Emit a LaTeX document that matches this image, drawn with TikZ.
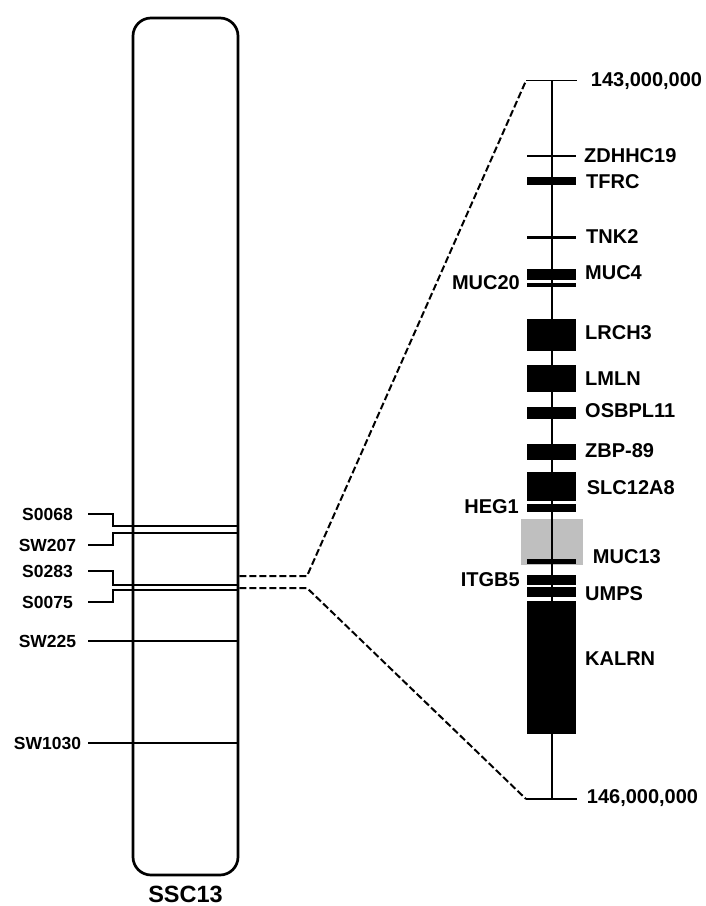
\documentclass[tikz,border=0pt]{standalone}
\usepackage{fontspec}
\setmainfont{Liberation Sans}
\usetikzlibrary{positioning, calc}

\begin{document}
\begin{tikzpicture}[x=1pt, y=-1pt,
chrom/.style={draw, line width=2.7pt, rounded corners=18pt, minimum width=105pt, minimum height=857pt, inner sep=0},
markerlabel/.style={font=\fontsize{17.5}{20}\selectfont\bfseries, text width=70pt, align=center, inner sep=0},
markerline/.style={line width=2pt},
gene/.style={fill=black, minimum width=48.5pt, inner sep=0, outer sep=0},
genelabel/.style={font=\fontsize{20}{24}\selectfont\bfseries, inner sep=0},
zoomline/.style={line width=2pt, dash pattern=on 7pt off 3pt}]
    \useasboundingbox (0,0) rectangle (705,906);

    % chromosome SSC13
    \node[chrom] (ssc) at (185.5,446.5) {};
    \node[font=\fontsize{23.5}{28}\selectfont\bfseries, below=6pt of ssc] (ssclabel) {SSC13};

    % markers
    \node[markerlabel] (s0068) at (47.5,514) {S0068};
    \node[markerlabel] (sw207) at (47.5,545) {SW207};
    \node[markerlabel] (s0283) at (47.5,571) {S0283};
    \node[markerlabel] (s0075) at (47.5,602) {S0075};
    \node[markerlabel] (sw225) at (47.5,641) {SW225};
    \node[markerlabel] (sw1030) at (47.5,743) {SW1030};

    \draw[markerline] ([xshift=5.5pt]s0068.east) -- ++(25,0) |- (ssc.east |- 0,526);
    \draw[markerline] ([xshift=5.5pt]sw207.east) -- ++(25,0) |- (ssc.east |- 0,533);
    \draw[markerline] ([xshift=5.5pt]s0283.east) -- ++(25,0) |- (ssc.east |- 0,585);
    \draw[markerline] ([xshift=5.5pt]s0075.east) -- ++(25,0) |- (ssc.east |- 0,589.5);
    \draw[markerline] ([xshift=5.5pt]sw225.east) -- (ssc.east |- sw225);
    \draw[markerline] ([xshift=5.5pt]sw1030.east) -- (ssc.east |- sw1030);

    % zoomed region
    \coordinate (axtop) at (551.5,80.7);
    \coordinate (axbot) at (551.5,799);
    \coordinate (zoomA) at (307,576);
    \coordinate (zoomB) at (307,588);

    \node[fill=black!25, minimum width=62.3pt, minimum height=46.3pt, inner sep=0] (grey) at (552.2,541.9) {};

    \node[gene, minimum height=2.5pt] (zdhhc19) at (551.5,156) {};
    \node[gene, minimum height=8pt] (tfrc) at (551.5,181.3) {};
    \node[gene, minimum height=3pt] (tnk2) at (551.5,237.3) {};
    \node[gene, minimum height=10.7pt] (muc4) at (551.5,274.6) {};
    \node[gene, minimum height=3.8pt] (muc20) at (551.5,284.6) {};
    \node[gene, minimum height=31.7pt] (lrch3) at (551.5,335.1) {};
    \node[gene, minimum height=26.4pt] (lmln) at (551.5,378.5) {};
    \node[gene, minimum height=12pt] (osbpl11) at (551.5,413.3) {};
    \node[gene, minimum height=16.3pt] (zbp89) at (551.5,452.1) {};
    \node[gene, minimum height=28.7pt] (slc12a8) at (551.5,486.6) {};
    \node[gene, minimum height=8pt] (heg1) at (551.5,508) {};
    \node[gene, minimum height=4.7pt] (muc13) at (551.5,561.6) {};
    \node[gene, minimum height=9.7pt] (itgb5) at (551.5,580.1) {};
    \node[gene, minimum height=10pt] (umps) at (551.5,592.3) {};
    \node[gene, minimum height=133.6pt] (kalrn) at (551.5,667.5) {};

    \draw[line width=2pt] (axtop) -- (axbot);
    \draw[line width=1.5pt] ([xshift=-25.5pt]axtop) -- ([xshift=25pt]axtop);
    \draw[line width=1.5pt] ([xshift=-25.5pt]axbot) -- ([xshift=25pt]axbot);

    \draw[zoomline] (ssc.east |- 0,576) -- (zoomA) -- ([xshift=-25.5pt]axtop);
    \draw[zoomline] (ssc.east |- 0,588) -- (zoomB) -- ([xshift=-25.5pt]axbot);

    % gene labels
    \node[genelabel, anchor=west] (toplabel) at (590.7,80.7) {143,000,000};
    \node[genelabel, anchor=west] (botlabel) at (586.7,798) {146,000,000};
    \node[genelabel, anchor=west] (zdhhc19-l) at (584,156) {ZDHHC19};
    \node[genelabel, anchor=west] (tfrc-l) at (586,181.7) {TFRC};
    \node[genelabel, anchor=west] (tnk2-l) at (586,237) {TNK2};
    \node[genelabel, anchor=west] (muc4-l) at (585,273) {MUC4};
    \node[genelabel, anchor=east] (muc20-l) at (520,282.7) {MUC20};
    \node[genelabel, anchor=west] (lrch3-l) at (585,333) {LRCH3};
    \node[genelabel, anchor=west] (lmln-l) at (585,379) {LMLN};
    \node[genelabel, anchor=west] (osbpl11-l) at (585,411) {OSBPL11};
    \node[genelabel, anchor=west] (zbp89-l) at (585,450.7) {ZBP-89};
    \node[genelabel, anchor=west] (slc12a8-l) at (586.7,487.7) {SLC12A8};
    \node[genelabel, anchor=east] (heg1-l) at (519,506.7) {HEG1};
    \node[genelabel, anchor=west] (muc13-l) at (592.7,556.7) {MUC13};
    \node[genelabel, anchor=east] (itgb5-l) at (520,579.3) {ITGB5};
    \node[genelabel, anchor=west] (umps-l) at (585,593.3) {UMPS};
    \node[genelabel, anchor=west] (kalrn-l) at (585,659) {KALRN};
\end{tikzpicture}
\end{document}
